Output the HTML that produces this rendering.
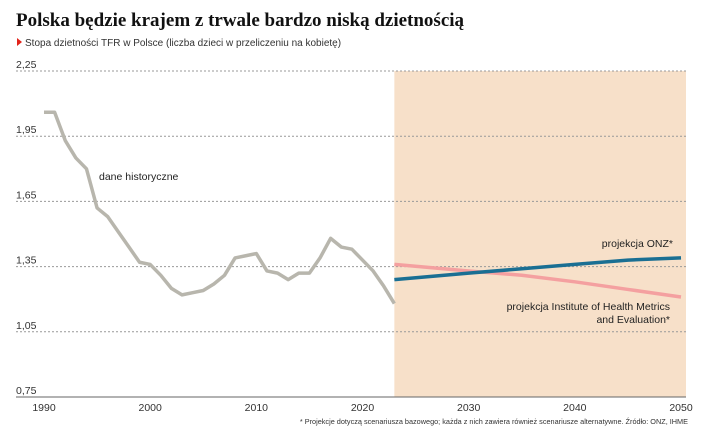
<!DOCTYPE html>
<html><head><meta charset="utf-8"><style>
body{margin:0;background:#fff;font-family:"Liberation Sans",sans-serif;}
svg{display:block}
</style></head><body>
<svg width="704" height="441">
<text x="16" y="26" font-family="Liberation Serif,serif" font-weight="bold" font-size="19" fill="#111">Polska będzie krajem z trwale bardzo niską dzietnością</text>
<polygon points="17,38 22,42 17,46" fill="#e2231a"/>
<text x="25" y="46" font-size="10" fill="#333">Stopa dzietności TFR w Polsce (liczba dzieci w przeliczeniu na kobietę)</text>
<g id="shade"></g><g id="grid"></g><g id="lines"></g>
<text x="99" y="180" font-size="10.5" fill="#222">dane historyczne</text>
<text x="673" y="247" font-size="10.5" fill="#222" text-anchor="end">projekcja ONZ*</text>
<text x="670" y="310" font-size="10.5" fill="#222" text-anchor="end">projekcja Institute of Health Metrics</text>
<text x="670" y="323" font-size="10.5" fill="#222" text-anchor="end">and Evaluation*</text>
<text x="688" y="424" font-size="7.3" fill="#333" text-anchor="end">* Projekcje dotyczą scenariusza bazowego; każda z nich zawiera również scenariusze alternatywne. Źródło: ONZ, IHME</text>
</svg>
<script>
const years=[1990,1991,1992,1993,1994,1995,1996,1997,1998,1999,2000,2001,2002,2003,2004,2005,2006,2007,2008,2009,2010,2011,2012,2013,2014,2015,2016,2017,2018,2019,2020,2021,2022,2023];
const hist=[2.06,2.06,1.93,1.85,1.80,1.62,1.58,1.51,1.44,1.37,1.36,1.31,1.25,1.22,1.23,1.24,1.27,1.31,1.39,1.40,1.41,1.33,1.32,1.29,1.32,1.32,1.39,1.48,1.44,1.43,1.38,1.33,1.26,1.18];
const projYears=[2023,2030,2035,2040,2045,2050];
const un=[1.29,1.32,1.34,1.36,1.38,1.39];
const ihme=[1.36,1.33,1.31,1.28,1.245,1.21];
const yTicks=[0.75,1.05,1.35,1.65,1.95,2.25];
const xTicks=[1990,2000,2010,2020,2030,2040,2050];
const NS="http://www.w3.org/2000/svg";
const X=y=>44+(y-1990)*(637/60), Y=v=>397-(v-0.75)*(326/1.5);
function mk(tag,a,parent){const e=document.createElementNS(NS,tag);for(const k in a)e.setAttribute(k,a[k]);document.getElementById(parent).appendChild(e);return e;}
let r=mk('rect',{x:X(2023),y:Y(2.25),width:686-X(2023),height:Y(0.75)-Y(2.25),fill:'#f7e0c9'},'shade');


yTicks.forEach(v=>{
 let l=mk('line',{x1:16,x2:686,y1:Y(v),y2:Y(v),stroke:v===0.75?'#666':'#999','stroke-dasharray':v===0.75?'':'2,2','stroke-width':1},'grid');
 
 
 let t=mk('text',{x:16,y:Y(v)-3,'font-size':10.5,fill:'#333'},'grid');t.textContent=v.toFixed(2).replace('.',',');
 
 
});
xTicks.forEach(v=>{
 let t=mk('text',{x:X(v),y:411,'font-size':10.5,fill:'#333','text-anchor':'middle'},'grid');t.textContent=v;
 
 
});
function line(xs,vs,c,n){let p=mk('polyline',{points:xs.map((x,i)=>X(x)+','+Y(vs[i])).join(' '),fill:'none',stroke:c,'stroke-width':3.5,'stroke-linejoin':'round'},'lines');
 
 }
line(years,hist,'#b8b6ad','historical-line');
line(projYears,ihme,'#f4a0a0','ihme-line');
line(projYears,un,'#1a6f93','un-line');
</script>
</body></html>
